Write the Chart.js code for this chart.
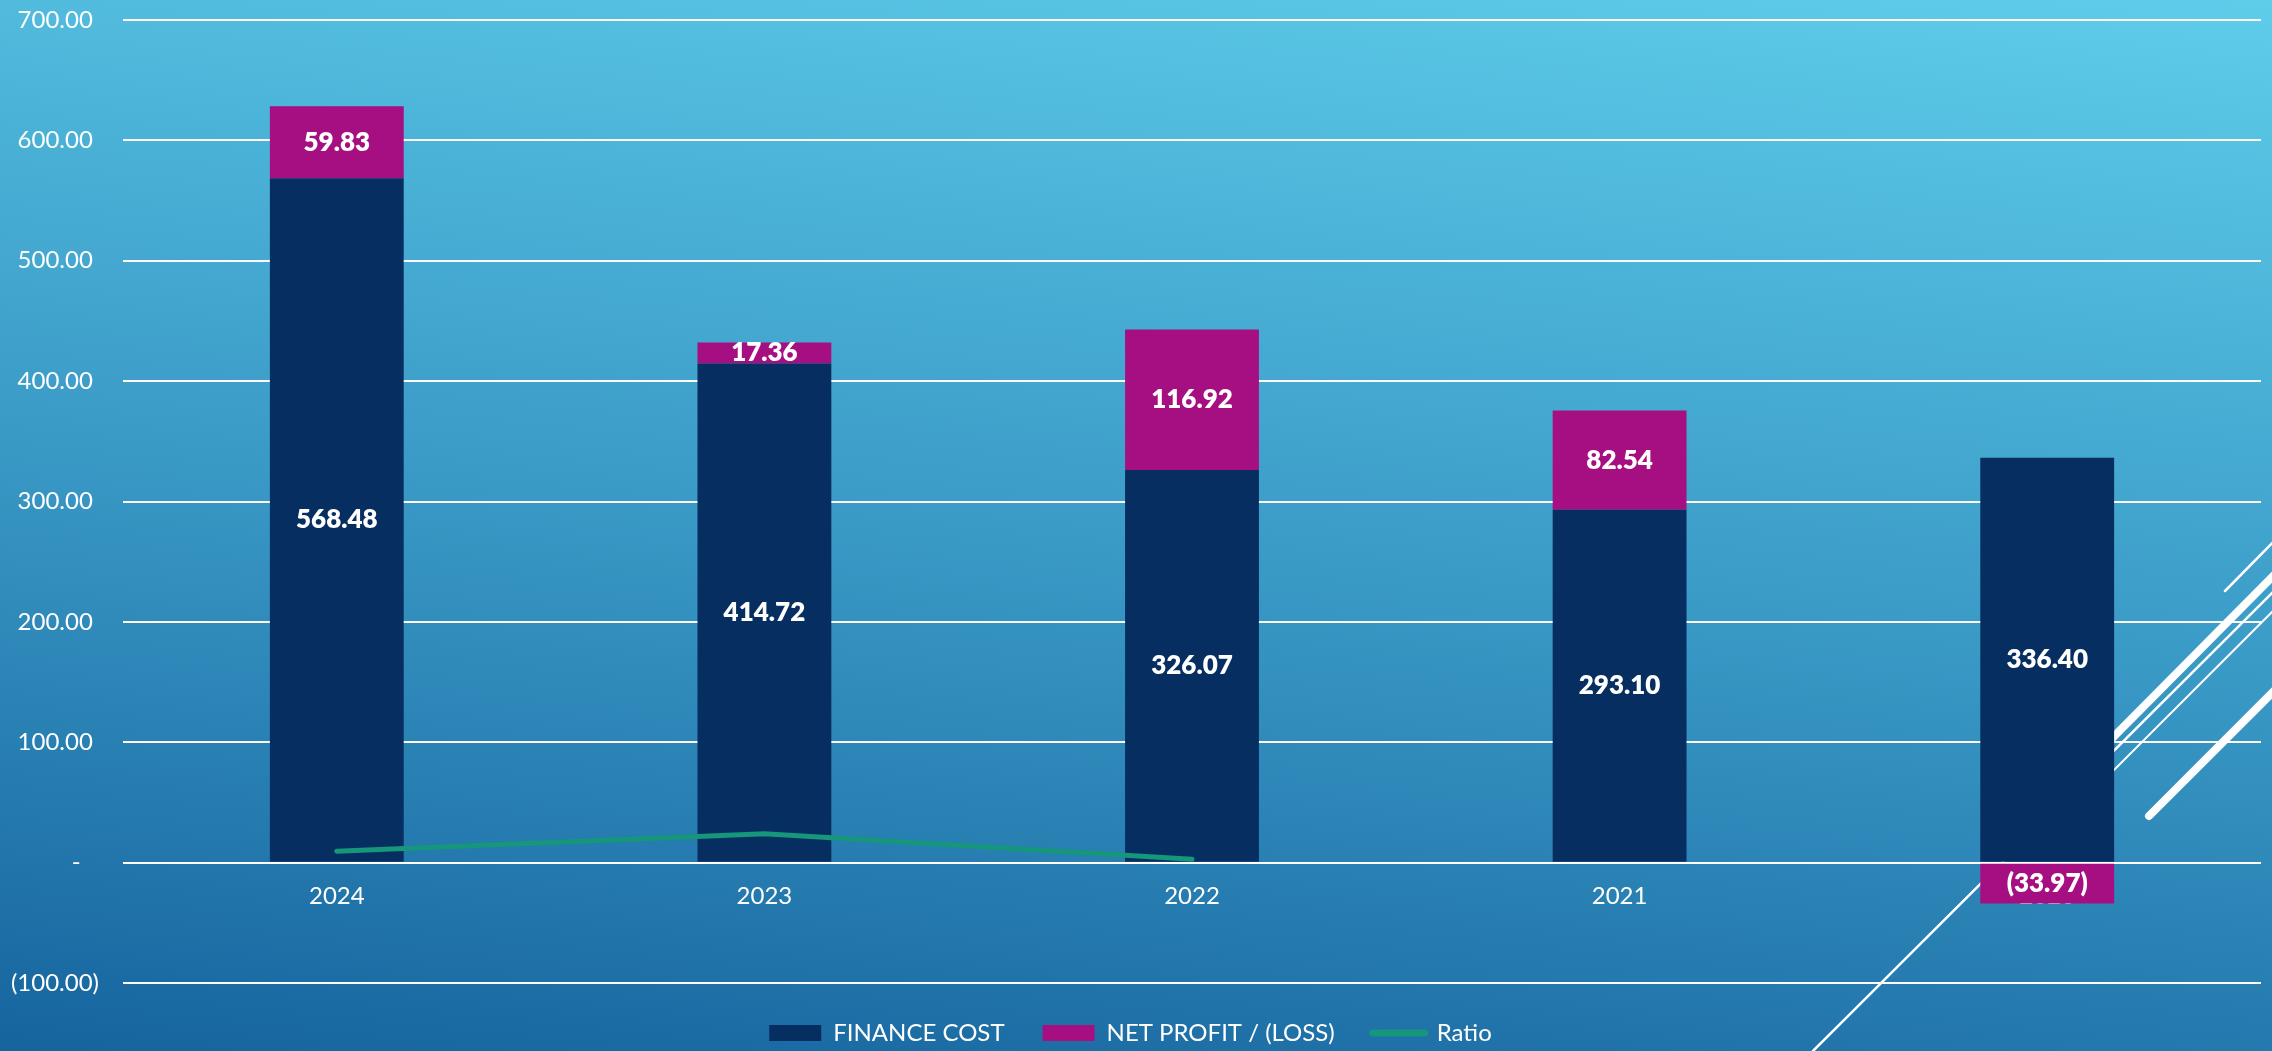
<!DOCTYPE html>
<html>
<head>
<meta charset="utf-8">
<script src="https://cdn.jsdelivr.net/npm/chart.js@4.4.1/dist/chart.umd.min.js"></script>
<style>
html,body{margin:0;padding:0;width:2272px;height:1051px;overflow:hidden;}
body{position:relative;background:linear-gradient(186deg,#5ecdea 0%,#3a9ac6 52%,#16649e 100%);}
#deco{position:absolute;left:0;top:0;}
#c{position:absolute;left:0;top:0;}
</style>
</head>
<body>
<svg id="deco" width="2272" height="1051" xmlns="http://www.w3.org/2000/svg">
  <g stroke="#ffffff" stroke-linecap="round" fill="none">
    <line x1="1813" y1="1051" x2="2290" y2="575" stroke-width="2.5"/>
    <line x1="2040" y1="811" x2="2290" y2="559" stroke-width="8"/>
    <line x1="2040" y1="844" x2="2290" y2="594" stroke-width="2"/>
    <line x1="2225" y1="591" x2="2290" y2="525" stroke-width="2.5"/>
    <line x1="2149" y1="816" x2="2290" y2="675" stroke-width="8"/>
  </g>
</svg>
<canvas id="c" width="2272" height="1051"></canvas>
<script>
// ---- data ----
const categories = ['2024', '2023', '2022', '2021', '2020'];
const financeCost = [568.48, 414.72, 326.07, 293.10, 336.40];
const netProfit = [59.83, 17.36, 116.92, 82.54, -33.97];
const ratio = [9.50, 23.89, 2.79, null, null];
const yMin = -100, yMax = 700, yStep = 100;
const seriesNames = ['FINANCE COST', 'NET PROFIT / (LOSS)', 'Ratio'];

const FONT = 'Lato, "Open Sans", "DejaVu Sans", sans-serif';
Chart.defaults.font.family = FONT;
Chart.defaults.color = '#ffffff';

function fmtValue(v) {
  return v < 0 ? '(' + Math.abs(v).toFixed(2) + ')' : v.toFixed(2);
}

const barLabels = {
  id: 'barLabels',
  afterDatasetsDraw(chart) {
    const ctx = chart.ctx;
    ctx.save();
    ctx.font = '800 26px ' + FONT;
    ctx.fillStyle = '#ffffff';
    ctx.textAlign = 'center';
    ctx.textBaseline = 'middle';
    chart.data.datasets.forEach((ds, i) => {
      if (ds.type === 'line') return;
      const meta = chart.getDatasetMeta(i);
      meta.data.forEach((el, j) => {
        const v = ds.data[j];
        if (v == null) return;
        const p = el.getProps(['x', 'y', 'base'], true);
        ctx.fillText(fmtValue(v), p.x, (p.y + p.base) / 2);
      });
    });
    ctx.restore();
  }
};

new Chart(document.getElementById('c'), {
  data: {
    labels: categories,
    datasets: [
      {
        type: 'bar', label: seriesNames[0], data: financeCost,
        backgroundColor: '#062e60', borderWidth: 0, stack: 'bars',
        categoryPercentage: 1, barPercentage: 0.313, order: 1
      },
      {
        type: 'bar', label: seriesNames[1], data: netProfit,
        backgroundColor: '#a50f82', borderWidth: 0, stack: 'bars',
        categoryPercentage: 1, barPercentage: 0.313, order: 1
      },
      {
        type: 'line', label: seriesNames[2], data: ratio,
        borderColor: '#16967a', backgroundColor: '#16967a', borderWidth: 5,
        borderCapStyle: 'round', borderJoinStyle: 'round',
        pointRadius: 0, pointHoverRadius: 0, tension: 0, fill: false,
        stack: 'ratio', order: 0, spanGaps: false
      }
    ]
  },
  options: {
    responsive: false,
    animation: false,
    layout: { padding: { left: 0, right: 11, top: 20, bottom: -4 } },
    scales: {
      x: {
        type: 'category',
        stacked: true,
        position: { y: 0 },
        z: 1,
        grid: { display: false },
        border: { display: false },
        ticks: { color: '#ffffff', font: { size: 24 }, padding: 11, maxRotation: 0 },
        afterFit(scale) { scale.paddingTop = 0; scale.paddingBottom = 0; }
      },
      y: {
        stacked: true,
        min: yMin, max: yMax,
        border: { display: false },
        grid: { color: '#ffffff', lineWidth: 2, drawTicks: false },
        ticks: {
          stepSize: yStep, color: '#ffffff', font: { size: 24 }, padding: 24,
          callback: v => v === 0 ? '-   ' : (v < 0 ? '(' + Math.abs(v).toFixed(2) + ')' : v.toFixed(2) + ' ')
        },
        afterFit(scale) { scale.width = 123; scale.paddingTop = 0; scale.paddingBottom = 0; }
      }
    },
    plugins: {
      tooltip: { enabled: false },
      legend: {
        position: 'bottom',
        align: 'center',
        labels: {
          color: '#ffffff',
          font: { size: 24 },
          usePointStyle: true,
          pointStyleWidth: 52,
          boxHeight: 16,
          padding: 38,
          sort: (a, b) => a.datasetIndex - b.datasetIndex,
          generateLabels(chart) {
            const items = Chart.defaults.plugins.legend.labels.generateLabels(chart);
            items.forEach(it => {
              const ds = chart.data.datasets[it.datasetIndex];
              if (ds.type === 'line') {
                it.pointStyle = 'line';
                it.lineWidth = 7;
                it.lineCap = 'round';
                it.strokeStyle = ds.borderColor;
              } else {
                it.pointStyle = 'rect';
                it.lineWidth = 0;
              }
            });
            return items;
          }
        }
      }
    }
  },
  plugins: [barLabels]
});
</script>
</body>
</html>
